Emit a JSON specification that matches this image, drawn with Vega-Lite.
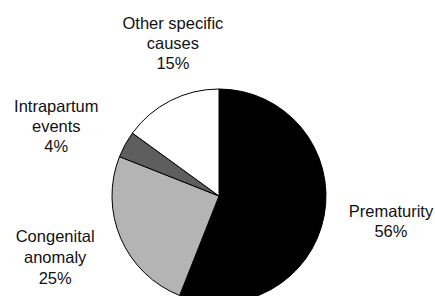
{
  "$schema": "https://vega.github.io/schema/vega-lite/v6.json",
  "width": 438,
  "height": 392,
  "autosize": {"type": "none"},
  "padding": 0,
  "background": "white",
  "config": {"view": {"stroke": null}},
  "data": {
    "values": [
      {"cause": "Prematurity", "value": 56, "label": "Prematurity\n56%"},
      {"cause": "Congenital anomaly", "value": 25, "label": "Congenital\nanomaly\n25%"},
      {"cause": "Intrapartum events", "value": 4, "label": "Intrapartum\nevents\n4%"},
      {"cause": "Other specific causes", "value": 15, "label": "Other specific\ncauses\n15%"}
    ]
  },
  "transform": [{"window": [{"op": "row_number", "as": "rank"}]}],
  "encoding": {
    "theta": {"field": "value", "type": "quantitative", "stack": true},
    "order": {"field": "rank", "type": "quantitative"}
  },
  "layer": [
    {
      "mark": {"type": "arc", "radius": 107, "stroke": "#000", "strokeWidth": 1},
      "encoding": {
        "color": {
          "field": "cause", "type": "nominal", "legend": null,
          "scale": {
            "domain": ["Prematurity", "Congenital anomaly", "Intrapartum events", "Other specific causes"],
            "range": ["#000000", "#b4b4b4", "#5e5e5e", "#ffffff"]
          }
        }
      }
    },
    {
      "mark": {"type": "text", "radius": 172, "dx": 3, "dy": -16, "lineBreak": "\n", "lineHeight": 20, "font": "Arial, Liberation Sans", "fontSize": 16.5, "fill": "#111"},
      "encoding": {"text": {"condition": {"test": "datum.cause === 'Prematurity'", "field": "label"}, "value": ""}}
    },
    {
      "mark": {"type": "text", "radius": 172, "dx": -6, "dy": -27, "lineBreak": "\n", "lineHeight": 21, "font": "Arial, Liberation Sans", "fontSize": 16.5, "fill": "#111"},
      "encoding": {"text": {"condition": {"test": "datum.cause === 'Congenital anomaly'", "field": "label"}, "value": ""}}
    },
    {
      "mark": {"type": "text", "radius": 172, "dx": -12, "dy": -6, "lineBreak": "\n", "lineHeight": 20, "font": "Arial, Liberation Sans", "fontSize": 16.5, "fill": "#111"},
      "encoding": {"text": {"condition": {"test": "datum.cause === 'Intrapartum events'", "field": "label"}, "value": ""}}
    },
    {
      "mark": {"type": "text", "radius": 161, "dx": 27, "dy": -29, "lineBreak": "\n", "lineHeight": 20, "font": "Arial, Liberation Sans", "fontSize": 16.5, "fill": "#111"},
      "encoding": {"text": {"condition": {"test": "datum.cause === 'Other specific causes'", "field": "label"}, "value": ""}}
    }
  ]
}
